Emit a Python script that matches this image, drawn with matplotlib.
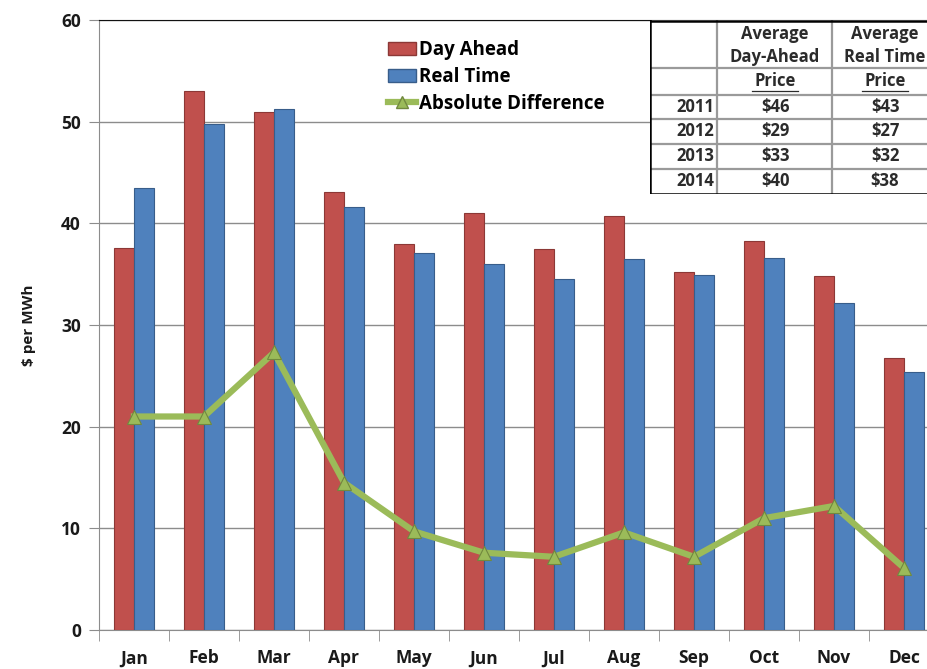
import numpy as np
import matplotlib
matplotlib.use('Agg')
import matplotlib.pyplot as plt
from matplotlib.lines import Line2D
from matplotlib.patches import Patch

plt.rcParams['font.family'] = ['Open Sans', 'DejaVu Sans']
plt.rcParams['font.weight'] = 'bold'
plt.rcParams['axes.labelweight'] = 'bold'

# Data
months = ['Jan', 'Feb', 'Mar', 'Apr', 'May', 'Jun', 'Jul', 'Aug', 'Sep', 'Oct', 'Nov', 'Dec']
day_ahead = [37.6, 53.0, 51.0, 43.1, 38.0, 41.0, 37.5, 40.7, 35.2, 38.3, 34.8, 26.8]
real_time = [43.5, 49.8, 51.2, 41.6, 37.1, 36.0, 34.5, 36.5, 34.9, 36.6, 32.2, 25.4]
abs_diff = [21.0, 21.0, 27.3, 14.5, 9.7, 7.6, 7.2, 9.6, 7.2, 11.0, 12.2, 6.1]

years = ['2011', '2012', '2013', '2014']
avg_da = ['$46', '$29', '$33', '$40']
avg_rt = ['$43', '$27', '$32', '$38']

red, red_edge = '#C0504D', '#8C3836'
blue, blue_edge = '#4F81BD', '#385D8A'
green, green_edge = '#9BBB59', '#71893F'

W, H = 927, 669
fig = plt.figure(figsize=(W / 100, H / 100), dpi=100)

# main axes in pixel terms: x 99..939, y 20..630
ax = fig.add_axes([99 / W, 1 - 630 / H, 840 / W, 610 / H])
x = np.arange(len(months))
bw = 0.286
ax.bar(x - bw / 2, day_ahead, width=bw, color=red, edgecolor=red_edge, lw=0.8, zorder=3)
ax.bar(x + bw / 2, real_time, width=bw, color=blue, edgecolor=blue_edge, lw=0.8, zorder=3)
ax.plot(x, abs_diff, color=green, lw=4.5, marker='^', ms=10, mfc=green, mec=green_edge,
        mew=0.8, zorder=4)

ax.set_xlim(-0.5, 11.5)
ax.set_ylim(0, 60)
ax.set_yticks(np.arange(0, 61, 10))
ax.yaxis.grid(True, color='#8c8c8c', lw=1.0, zorder=0)
ax.set_axisbelow(True)
ax.tick_params(axis='y', direction='out', length=7, color='#8c8c8c', labelsize=12.5,
               labelcolor='#1a1a1a', pad=6)
ax.set_xticks(x)
ax.set_xticklabels(months)
ax.tick_params(axis='x', which='major', length=0, labelsize=12.5, labelcolor='#1a1a1a', pad=14)
ax.set_xticks(np.arange(-0.5, 12, 1), minor=True)
ax.tick_params(axis='x', which='minor', direction='out', length=8, color='#8c8c8c')
for side in ['left', 'bottom']:
    ax.spines[side].set_color('#8c8c8c')
ax.spines['right'].set_visible(False)
ax.spines['top'].set_color('#111111')
ax.set_ylabel('$ per MWh', fontsize=11, labelpad=18, color='#1a1a1a')

handles = [Patch(facecolor=red, edgecolor=red_edge),
           Patch(facecolor=blue, edgecolor=blue_edge),
           Line2D([], [], color=green, lw=4.5, marker='^', ms=8, mfc=green, mec=green_edge)]
ax.legend(handles, ['Day Ahead', 'Real Time', 'Absolute Difference'],
          loc='upper left', bbox_to_anchor=(0.333, 0.982), frameon=False, fontsize=13.5,
          handlelength=1.5, handletextpad=0.15, labelspacing=0.36, borderpad=0)

# summary table, drawn in pixel coordinates
tx = fig.add_axes([650 / W, 1 - 194 / H, 290 / W, 174 / H])
tx.set_xlim(650, 940)
tx.set_ylim(194, 20)
tx.axis('off')
tx.set_zorder(5)
tx.fill_between([650, 940], 20, 194, color='white', zorder=0)
gray = '#9a9a9a'
for yy in [68, 95, 119, 144, 169]:
    tx.plot([650, 940], [yy, yy], color=gray, lw=1.6)
for xx in [717, 832]:
    tx.plot([xx, xx], [20, 194], color=gray, lw=1.6)
tx.plot([650, 650, 940], [20, 194, 194], color='black', lw=1.8, solid_joinstyle='miter')
tx.plot([650, 940], [20.5, 20.5], color='black', lw=1.8)

tc = '#2b2b2b'
fs = 12
for cx, l1, l2 in [(775, 'Average', 'Day-Ahead'), (885, 'Average', 'Real Time')]:
    tx.text(cx, 34, l1, ha='center', va='center', fontsize=fs, color=tc)
    tx.text(cx, 57, l2, ha='center', va='center', fontsize=fs, color=tc)
    tx.text(cx, 81, 'Price', ha='center', va='center', fontsize=fs, color=tc)
    tx.plot([cx - 23, cx + 23], [91, 91], color=tc, lw=0.9)
row_y = [107, 131, 156, 181]
for yy, yr, da, rt in zip(row_y, years, avg_da, avg_rt):
    tx.text(714, yy, yr, ha='right', va='center', fontsize=fs, color=tc)
    tx.text(775, yy, da, ha='center', va='center', fontsize=fs, color=tc)
    tx.text(885, yy, rt, ha='center', va='center', fontsize=fs, color=tc)

fig.savefig('out.png', dpi=100)
